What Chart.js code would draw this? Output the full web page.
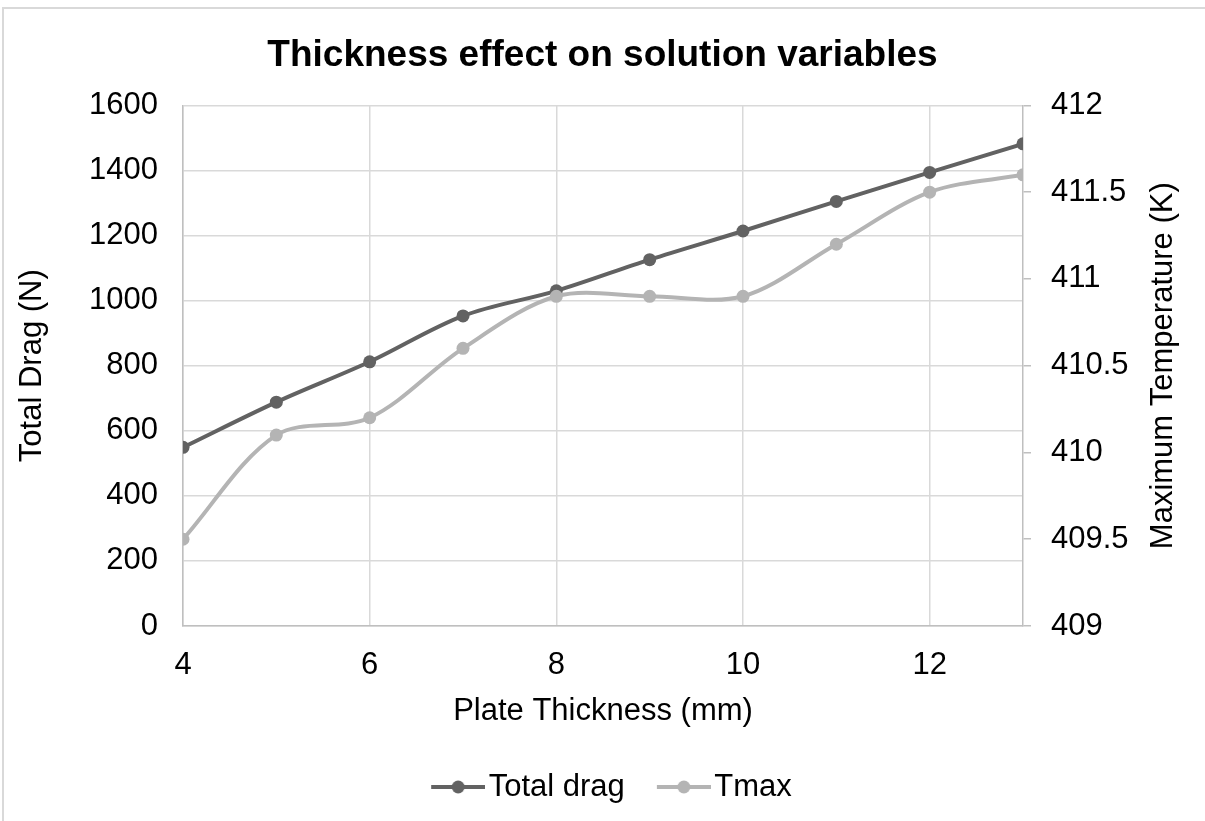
<!DOCTYPE html>
<html><head><meta charset="utf-8">
<script src="https://cdn.jsdelivr.net/npm/chart.js@4.4.1/dist/chart.umd.min.js"></script>
<style>html,body{margin:0;padding:0;background:#fff;}#wrap{position:relative;width:1205px;height:821px;}</style>
</head><body><div id="wrap"><canvas id="c" width="1205" height="821"></canvas></div>
<script>
const thickness = [4, 5, 6, 7, 8, 9, 10, 11, 12, 13];
const totalDrag = [549, 688, 812, 953, 1030, 1126, 1214, 1305, 1394, 1482];
const tmax = [409.5, 410.1, 410.2, 410.6, 410.9, 410.9, 410.9, 411.2, 411.5, 411.6];
const xTicks = [4, 6, 8, 10, 12];
const yLeftTicks = [0, 200, 400, 600, 800, 1000, 1200, 1400, 1600];
const yRightTicks = [409, 409.5, 410, 410.5, 411, 411.5, 412];
const seriesNames = ['Total drag', 'Tmax'];
const titleText = 'Thickness effect on solution variables';
const xTitle = 'Plate Thickness (mm)';
const yLeftTitle = 'Total Drag (N)';
const yRightTitle = 'Maximum Temperature (K)';

const FONT = '"Liberation Sans", Arial, sans-serif';
const DRAG_COLOR = '#626262';
const TMAX_COLOR = '#b4b4b4';

function legendImage(color) {
  const c = document.createElement('canvas');
  c.width = 84; c.height = 16;
  const g = c.getContext('2d');
  g.strokeStyle = color; g.lineWidth = 4;
  g.beginPath(); g.moveTo(30, 8); g.lineTo(84, 8); g.stroke();
  g.fillStyle = color;
  g.beginPath(); g.arc(57, 8, 6.5, 0, Math.PI * 2); g.fill();
  return c;
}

const decor = {
  id: 'decor',
  beforeDraw(chart) {
    const ctx = chart.ctx;
    ctx.save();
    ctx.fillStyle = '#fff';
    ctx.fillRect(0, 0, chart.width, chart.height);
    ctx.fillStyle = '#d9d9d9';
    ctx.fillRect(2, 7, 2, chart.height - 7);
    ctx.fillRect(2, 7, chart.width - 2, 2);
    ctx.restore();
  },
  afterDraw(chart) {
    const ctx = chart.ctx;
    const a = chart.chartArea;
    ctx.save();
    ctx.translate(1163, (a.top + a.bottom) / 2);
    ctx.rotate(-Math.PI / 2);
    ctx.textAlign = 'center';
    ctx.textBaseline = 'middle';
    ctx.fillStyle = '#000';
    ctx.font = '31px ' + FONT;
    ctx.fillText(yRightTitle, 0, 0);
    ctx.restore();
  }
};

const tickFont = {family: FONT, size: 31};

new Chart(document.getElementById('c'), {
  type: 'line',
  data: {
    datasets: [
      {
        label: seriesNames[0],
        data: thickness.map((x, i) => ({x: x, y: totalDrag[i]})),
        borderColor: DRAG_COLOR, backgroundColor: DRAG_COLOR,
        borderWidth: 4, pointRadius: 6.5, pointHoverRadius: 6.5,
        pointBorderWidth: 0, tension: 0.33, yAxisID: 'y', order: 1
      },
      {
        label: seriesNames[1],
        data: thickness.map((x, i) => ({x: x, y: tmax[i]})),
        borderColor: TMAX_COLOR, backgroundColor: TMAX_COLOR,
        borderWidth: 4, pointRadius: 6.5, pointHoverRadius: 6.5,
        pointBorderWidth: 0, tension: 0.33, yAxisID: 'y1', order: 0
      }
    ]
  },
  options: {
    responsive: false,
    animation: false,
    devicePixelRatio: 1,
    layout: {padding: {left: 0, right: 0, top: 0, bottom: 8.5}},
    plugins: {
      tooltip: {enabled: false},
      title: {
        display: true, text: titleText, color: '#000',
        font: {family: FONT, size: 37, weight: 'bold'},
        padding: {top: 34, bottom: 27}
      },
      legend: {
        position: 'bottom',
        labels: {
          usePointStyle: true, pointStyleWidth: 60, padding: 14,
          color: '#000', font: {family: FONT, size: 31},
          generateLabels: (chart) => [
            {text: seriesNames[0], pointStyle: legendImage(DRAG_COLOR), fillStyle: DRAG_COLOR, strokeStyle: DRAG_COLOR, lineWidth: 0, hidden: false, datasetIndex: 0, fontColor: '#000'},
            {text: seriesNames[1], pointStyle: legendImage(TMAX_COLOR), fillStyle: TMAX_COLOR, strokeStyle: TMAX_COLOR, lineWidth: 0, hidden: false, datasetIndex: 1, fontColor: '#000'}
          ]
        }
      }
    },
    scales: {
      x: {
        type: 'linear', position: 'bottom', min: 4, max: 13,
        afterBuildTicks: (s) => { s.ticks = xTicks.map(v => ({value: v})); },
        ticks: {font: tickFont, color: '#000', padding: 21, maxRotation: 0, autoSkip: false, callback: (v) => String(v)},
        grid: {color: '#d9d9d9', lineWidth: 1.5, drawTicks: false},
        border: {color: '#bfbfbf', width: 1.5},
        title: {display: true, text: xTitle, color: '#000', font: {family: FONT, size: 31}, padding: {top: 0, bottom: 27}},
        afterFit: (s) => { s.height = 131.5; }
      },
      y: {
        type: 'linear', position: 'left', min: 0, max: 1600,
        afterBuildTicks: (s) => { s.ticks = yLeftTicks.map(v => ({value: v})); },
        ticks: {font: tickFont, color: '#000', padding: 25, callback: (v) => String(v)},
        grid: {color: '#d9d9d9', lineWidth: 1.5, drawTicks: false},
        border: {color: '#bfbfbf', width: 1.5},
        title: {display: true, text: yLeftTitle, color: '#000', font: {family: FONT, size: 31}, padding: {top: 14, bottom: 0}},
        afterFit: (s) => { s.width = 183; }
      },
      y1: {
        type: 'linear', position: 'right', min: 409, max: 412,
        afterBuildTicks: (s) => { s.ticks = yRightTicks.map(v => ({value: v})); },
        ticks: {font: tickFont, color: '#000', padding: 20, callback: (v) => String(v)},
        grid: {drawOnChartArea: false, drawTicks: true, tickLength: 8, color: '#bfbfbf', lineWidth: 1.5},
        border: {color: '#bfbfbf', width: 1.5},
        title: {display: false},
        afterFit: (s) => { s.width = 182; }
      }
    }
  },
  plugins: [decor]
});
</script>
</body></html>
